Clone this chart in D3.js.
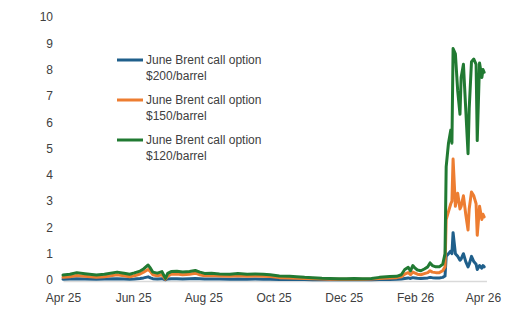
<!DOCTYPE html>
<html><head><meta charset="utf-8">
<script src="https://cdn.jsdelivr.net/npm/d3@7"></script>
<style>body{margin:0;background:#fff}svg{display:block}text{font-family:"Liberation Sans",Arial,sans-serif}</style>
</head><body><svg id="c" width="525" height="336"></svg>
<script>
const dates = ["2025-04-01","2025-04-07","2025-04-13","2025-04-20","2025-04-30","2025-05-07","2025-05-18","2025-05-24","2025-05-29","2025-06-02","2025-06-07","2025-06-10","2025-06-14","2025-06-16","2025-06-18","2025-06-22","2025-06-26","2025-06-29","2025-07-01","2025-07-04","2025-07-09","2025-07-14","2025-07-20","2025-07-25","2025-07-29","2025-08-02","2025-08-08","2025-08-15","2025-08-24","2025-08-31","2025-09-08","2025-09-15","2025-09-22","2025-09-28","2025-10-06","2025-10-15","2025-10-21","2025-10-28","2025-11-04","2025-11-12","2025-11-19","2025-11-27","2025-12-03","2025-12-10","2025-12-17","2025-12-25","2026-01-01","2026-01-10","2026-01-16","2026-01-20","2026-01-23","2026-01-26","2026-01-28","2026-01-30","2026-02-01","2026-02-03","2026-02-06","2026-02-09","2026-02-12","2026-02-14","2026-02-16","2026-02-19","2026-02-22","2026-02-25","2026-02-27","2026-02-28","2026-03-02","2026-03-04","2026-03-05","2026-03-06","2026-03-08","2026-03-10","2026-03-12","2026-03-13","2026-03-15","2026-03-17","2026-03-19","2026-03-20","2026-03-22","2026-03-24","2026-03-26","2026-03-27","2026-03-29","2026-03-31","2026-04-01","2026-04-02"];

const call200 = [0.03,0.04,0.05,0.04,0.03,0.04,0.05,0.04,0.03,0.04,0.06,0.08,0.12,0.08,0.05,0.04,0.05,0.01,0.04,0.05,0.05,0.04,0.05,0.06,0.05,0.04,0.04,0.04,0.03,0.04,0.03,0.04,0.03,0.03,0.02,0.02,0.02,0.02,0.01,0.01,0.01,0.01,0.01,0.01,0.01,0.01,0.02,0.02,0.03,0.04,0.06,0.08,0.06,0.09,0.08,0.07,0.06,0.07,0.08,0.1,0.09,0.08,0.08,0.1,0.15,0.9,1.0,1.1,1.0,1.8,1.0,0.9,0.75,0.8,1.0,0.7,0.5,0.6,0.9,0.7,0.6,0.4,0.55,0.45,0.55,0.5];

const call150 = [0.1,0.12,0.17,0.14,0.1,0.12,0.2,0.16,0.12,0.16,0.23,0.3,0.4,0.32,0.2,0.16,0.2,0.03,0.15,0.22,0.23,0.2,0.22,0.26,0.2,0.16,0.17,0.15,0.14,0.16,0.14,0.15,0.14,0.13,0.09,0.08,0.07,0.06,0.05,0.04,0.03,0.03,0.03,0.03,0.03,0.04,0.06,0.08,0.09,0.12,0.22,0.28,0.2,0.3,0.26,0.22,0.2,0.24,0.28,0.35,0.3,0.28,0.28,0.35,0.5,2.3,2.6,2.9,3.0,4.6,2.8,3.3,2.7,2.8,3.2,2.5,1.9,2.7,3.35,3.2,2.9,1.7,2.8,2.3,2.5,2.4];

const call120 = [0.19,0.22,0.28,0.24,0.19,0.22,0.3,0.26,0.22,0.27,0.34,0.42,0.57,0.45,0.3,0.26,0.32,0.06,0.25,0.32,0.33,0.3,0.32,0.36,0.3,0.25,0.26,0.23,0.22,0.25,0.22,0.23,0.22,0.2,0.15,0.14,0.12,0.1,0.09,0.07,0.06,0.05,0.05,0.06,0.05,0.06,0.1,0.13,0.14,0.2,0.4,0.48,0.35,0.55,0.45,0.38,0.35,0.42,0.5,0.65,0.55,0.5,0.5,0.6,1.0,4.3,5.2,5.7,5.2,8.8,8.6,7.2,6.3,7.7,8.2,6.5,4.8,6.5,8.3,8.4,8.2,5.3,8.25,7.7,8.0,7.9];

const seriesNames = ["June Brent call option $200/barrel","June Brent call option $150/barrel","June Brent call option $120/barrel"];
const yTicks = [0,1,2,3,4,5,6,7,8,9,10];
const xTickDates = ["2025-04-01","2025-06-01","2025-08-01","2025-10-01","2025-12-01","2026-02-01","2026-04-01"];
const colors = ["#1f5f8b","#ed7d31","#217a32"];

const parse = d3.timeParse("%Y-%m-%d");
const dts = dates.map(parse);
const svg = d3.select("#c");

const x = d3.scaleTime().domain([parse("2025-04-01"), parse("2026-04-04")]).range([63, 63 + 368*(420/365)]);
const y = d3.scaleLinear().domain([0,10]).range([280, 17]);

// y tick labels
const ya = svg.append("g").attr("transform","translate(53,0)")
  .call(d3.axisLeft(y).tickValues(yTicks).tickSize(0).tickPadding(0).tickFormat(d3.format("d")));
ya.select(".domain").remove();
ya.selectAll("text").attr("font-size",12).attr("fill","#404040").attr("font-family","Liberation Sans, Arial, sans-serif");

// x axis
const xa = svg.append("g").attr("transform","translate(0,281)")
  .call(d3.axisBottom(x).tickValues(xTickDates.map(parse)).tickSize(0).tickPadding(12).tickFormat(d3.timeFormat("%b %y")));
xa.select(".domain").attr("stroke","#d9d9d9").attr("stroke-width",1.3);
xa.selectAll("text").attr("font-size",12).attr("fill","#404040").attr("font-family","Liberation Sans, Arial, sans-serif");

const line = d3.line().x((d,i)=>x(dts[i])).y(d=>y(d));
[call200, call150, call120].forEach((s,k)=>{
  svg.append("path").datum(s).attr("d",line).attr("fill","none")
    .attr("stroke",colors[k]).attr("stroke-width",3).attr("stroke-linejoin","round").attr("stroke-linecap","round");
});

// legend
const lg = svg.append("g");
seriesNames.forEach((name,k)=>{
  const yy = 60 + k*40;
  lg.append("line").attr("x1",117).attr("x2",143).attr("y1",yy).attr("y2",yy)
    .attr("stroke",colors[k]).attr("stroke-width",3);
  const parts = name.split(" $");
  const t = lg.append("text").attr("x",146).attr("y",yy+4).attr("font-size",12).attr("fill","#404040");
  t.append("tspan").attr("x",146).text(parts[0]);
  t.append("tspan").attr("x",146).attr("dy",16).text("$"+parts[1]);
});
</script></body></html>
